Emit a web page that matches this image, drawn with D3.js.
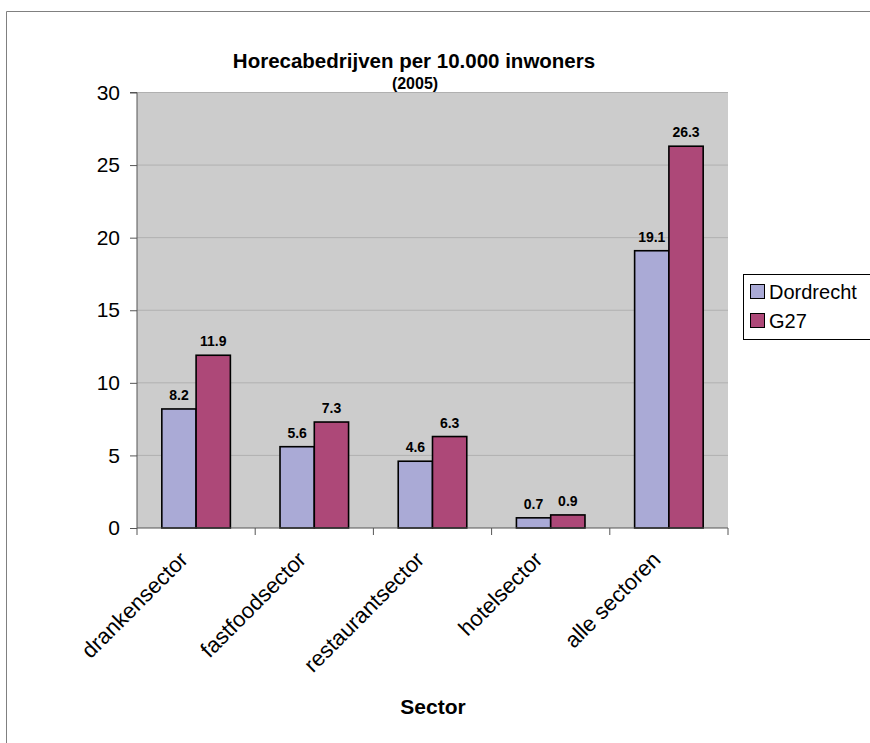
<!DOCTYPE html>
<html><head><meta charset="utf-8">
<script src="https://cdn.jsdelivr.net/npm/d3@7"></script>
<style>body{margin:0;background:#fff;}svg{display:block;font-family:Arial,"Liberation Sans",sans-serif;}</style>
</head><body>
<svg id="c" width="870" height="743"></svg>
<script>
const categories = ["drankensector","fastfoodsector","restaurantsector","hotelsector","alle sectoren"];
const seriesNames = ["Dordrecht","G27"];
const dordrecht = [8.2,5.6,4.6,0.7,19.1];
const g27 = [11.9,7.3,6.3,0.9,26.3];
const yTicks = [0,5,10,15,20,25,30];
const colors = ["#aaaad6","#ad4878"];
const series = [dordrecht, g27];

const svg = d3.select("#c");
svg.append("path").attr("d","M6.5,743 V11.5 H870").attr("fill","none").attr("stroke","#808080").attr("stroke-width",1);

const L=137, R=728, T=92.5, B=528;
const x = d3.scaleBand().domain(categories).range([L,R]).paddingInner(0.42).paddingOuter(0.21);
const xs = d3.scaleBand().domain(seriesNames).range([0,x.bandwidth()]);
const y = d3.scaleLinear().domain([0,30]).range([B,T]);

svg.append("rect").attr("x",L).attr("y",T).attr("width",R-L).attr("height",B-T).attr("fill","#cccccc");
svg.append("g").selectAll("line").data(yTicks.filter(d=>d>0)).join("line")
  .attr("x1",L).attr("x2",R).attr("y1",d=>y(d)).attr("y2",d=>y(d)).attr("stroke","#b0b0b0").attr("stroke-width",1);

categories.forEach((c,i)=>{
  series.forEach((s,j)=>{
    svg.append("rect").attr("x",x(c)+xs(seriesNames[j])).attr("y",y(s[i]))
      .attr("width",xs.bandwidth()).attr("height",B-y(s[i]))
      .attr("fill",colors[j]).attr("stroke","#000").attr("stroke-width",1.6);
    svg.append("text").attr("x",x(c)+xs(seriesNames[j])+xs.bandwidth()/2).attr("y",y(s[i])-9)
      .attr("text-anchor","middle").attr("font-size",14).attr("font-weight","bold").text(s[i].toFixed(1));
  });
});

const ya = svg.append("g").attr("transform",`translate(${L},0)`).call(d3.axisLeft(y).tickValues(yTicks).tickSize(7).tickPadding(10));
ya.select(".domain").attr("stroke","#555").attr("d",`M-7,${T}H0V${B}`);
ya.selectAll(".tick line").attr("stroke","#555");
ya.selectAll("text").attr("font-size",21).attr("fill","#000").attr("font-family","Arial,'Liberation Sans',sans-serif");

svg.append("line").attr("x1",L).attr("x2",R).attr("y1",B).attr("y2",B).attr("stroke","#555");
const bounds = d3.range(categories.length+1).map(i=>L+(R-L)*i/categories.length);
svg.append("g").selectAll("line").data(bounds).join("line")
  .attr("x1",d=>d).attr("x2",d=>d).attr("y1",B).attr("y2",B+7).attr("stroke","#555");
svg.append("g").selectAll("text").data(categories).join("text")
  .attr("transform",d=>`translate(${x(d)+x.bandwidth()/2-7},${B+33}) rotate(-45)`)
  .attr("text-anchor","end").attr("font-size",22).text(d=>d);

svg.append("text").attr("x",414).attr("y",68).attr("text-anchor","middle").attr("font-size",20.5).attr("font-weight","bold").text("Horecabedrijven per 10.000 inwoners");
svg.append("text").attr("x",415).attr("y",89).attr("text-anchor","middle").attr("font-size",16).attr("font-weight","bold").text("(2005)");
svg.append("text").attr("x",433).attr("y",714).attr("text-anchor","middle").attr("font-size",21).attr("font-weight","bold").text("Sector");

const lg = svg.append("g");
lg.append("rect").attr("x",743.5).attr("y",274.5).attr("width",140).attr("height",65).attr("fill","#fff").attr("stroke","#000").attr("stroke-width",1);
seriesNames.forEach((n,i)=>{
  lg.append("rect").attr("x",750.5).attr("y",284.5+i*29).attr("width",14).attr("height",14).attr("fill",colors[i]).attr("stroke","#000").attr("stroke-width",1);
  lg.append("text").attr("x",769).attr("y",299+i*29).attr("font-size",20).text(n);
});
</script>
</body></html>
